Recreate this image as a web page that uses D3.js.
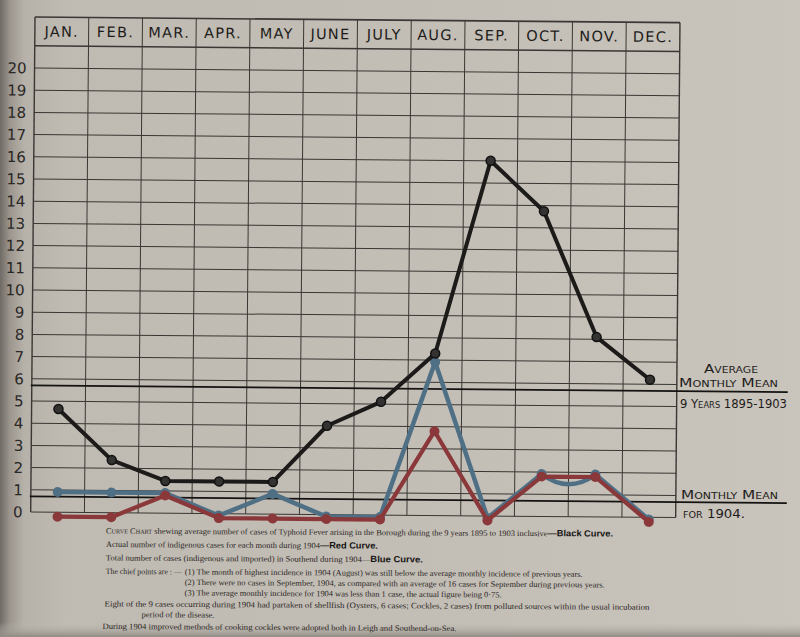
<!DOCTYPE html>
<html><head><meta charset="utf-8">
<script src="https://cdn.jsdelivr.net/npm/d3@7"></script>
<style>html,body{margin:0;padding:0;background:#c2bdb5;} svg{display:block}</style>
</head><body><svg id="c" width="800" height="637"></svg>
<script>
// ---------- data ----------
const months = ["JAN.","FEB.","MAR.","APR.","MAY","JUNE","JULY","AUG.","SEP.","OCT.","NOV.","DEC."];
const yTicks = [0,1,2,3,4,5,6,7,8,9,10,11,12,13,14,15,16,17,18,19,20];
const average9Years = [4.65,2.37,1.45,1.45,1.45,4.0,5.1,7.3,16,13.75,8.1,6.2];   // black
const indigenous1904 = [0,0,1,0,0,0,0,4,0,2,2,0];                                  // red
const total1904 = [1,1,1,0,1,0,0,7,0,2,2,0];                                       // blue
const mean9Years = 5.7;
const mean1904 = 0.7;
const annotations = [
  {text:"Average", x:704, y:372.5, len:54},
  {text:"Monthly Mean", x:679, y:387, len:99},
  {text:"9 Years 1895-1903", x:680, y:408, len:107},
  {text:"Monthly Mean", x:681, y:499, len:97},
  {text:"for 1904.", x:683, y:518, len:62}
];
const notes = [
  {x:106, y:533.5, len:507, parts:[{t:"Curve Chart", sc:1},{t:" shewing average number of cases of Typhoid Fever arising in the Borough during the 9 years 1895 to 1903 inclusive"},{t:"—Black Curve.", b:1}]},
  {x:106, y:547, len:272, parts:[{t:"Actual number of indigenous cases for each month during 1904"},{t:"—Red Curve.", b:1}]},
  {x:106, y:560.5, len:317, parts:[{t:"Total number of cases (indigenous and imported) in Southend during 1904—"},{t:"Blue Curve.", b:1}]},
  {x:106, y:574, len:76, parts:[{t:"The chief points are : —"}]},
  {x:185, y:574, len:398, parts:[{t:"(1)  The month of highest incidence in 1904 (August) was still below the average monthly incidence of previous years."}]},
  {x:185, y:584.5, len:420, parts:[{t:"(2)  There were no cases in September, 1904, as compared with an average of 16 cases for September during previous years."}]},
  {x:185, y:595, len:317, parts:[{t:"(3)  The average monthly incidence for 1904 was less than 1 case, the actual figure being 0·75."}]},
  {x:105, y:606.5, len:545, parts:[{t:"Eight of the 9 cases occurring during 1904 had partaken of shellfish (Oysters, 6 cases; Cockles, 2 cases) from polluted sources within the usual incubation"}]},
  {x:142, y:617, len:73, parts:[{t:"period of the disease."}]},
  {x:103, y:629, len:354, parts:[{t:"During 1904 improved methods of cooking cockles were adopted both in Leigh and Southend-on-Sea."}]}
];

// ---------- drawing ----------
const svg = d3.select("#c");
const defs = svg.append("defs");
const g1 = defs.append("linearGradient").attr("id","paper").attr("x1",0).attr("x2",1).attr("y1",0).attr("y2",0);
[[0,"#6f6a64"],[0.012,"#9b958e"],[0.03,"#b6b1a9"],[0.08,"#bfbab2"],[0.6,"#c3beb6"],[1,"#c9c4bc"]]
  .forEach(([o,c])=>g1.append("stop").attr("offset",o).attr("stop-color",c));
svg.append("rect").attr("width",800).attr("height",637).attr("fill","url(#paper)");
const g2 = defs.append("linearGradient").attr("id","bottom").attr("x1",0).attr("x2",0).attr("y1",0).attr("y2",1);
[[0,"#c3beb6",0],[1,"#8f8a83",1]].forEach(([o,c,a])=>g2.append("stop").attr("offset",o).attr("stop-color",c).attr("stop-opacity",a));
svg.append("rect").attr("y",622).attr("width",800).attr("height",15).attr("fill","url(#bottom)");

const left = 35, right = 680, headTop = 17;
const x = d3.scaleBand().domain(d3.range(12)).range([left,right]);
const y = d3.scaleLinear().domain([0,20]).range([512,68]);
const cx = i => x(i) + x.bandwidth()/2;

const chart = svg.append("g").attr("transform",`rotate(0.5,${left},${headTop})`);
const gridCol = "#3a3734";

// horizontal grid
chart.append("g").selectAll("line").data(yTicks.concat([21])).join("line")
  .attr("x1",left).attr("x2",right).attr("y1",d=>y(d)).attr("y2",d=>y(d))
  .attr("stroke",gridCol).attr("stroke-width",d=>d===21?1.6:1);
// vertical grid
chart.append("g").selectAll("line").data(d3.range(13)).join("line")
  .attr("x1",i=>i<12?x(i):right).attr("x2",i=>i<12?x(i):right)
  .attr("y1",headTop).attr("y2",y(0))
  .attr("stroke",gridCol).attr("stroke-width",(d)=>d===0||d===12?1.4:1);
chart.append("line").attr("x1",left).attr("x2",right).attr("y1",headTop).attr("y2",headTop)
  .attr("stroke",gridCol).attr("stroke-width",1.6);

// month header
chart.append("g").selectAll("text").data(months).join("text")
  .attr("x",(d,i)=>cx(i)).attr("y",36.5).attr("text-anchor","middle")
  .attr("font-family","DejaVu Sans, sans-serif").attr("font-size",14.5)
  .attr("letter-spacing",1.3).attr("fill","#1e1c1a").text(d=>d);

// y tick labels
chart.append("g").selectAll("text").data(yTicks).join("text")
  .attr("x",27).attr("y",d=>y(d)+5.5).attr("text-anchor","end")
  .attr("font-family","DejaVu Sans, sans-serif").attr("font-size",15)
  .attr("fill","#2a2725").text(d=>d);

// mean lines
chart.append("g").selectAll("line").data([mean9Years, mean1904]).join("line")
  .attr("x1",left-1).attr("x2",791).attr("y1",d=>y(d)).attr("y2",d=>y(d))
  .attr("stroke","#141312").attr("stroke-width",1.8);

// blue curve (with the sagging Oct–Nov stretch)
const blueDy = 2, redDy = 4.5;
function bluePath(vals){
  const p = d3.path();
  vals.forEach((v,i)=>{
    const X = cx(i), Y = y(v)+blueDy;
    if(i===0) p.moveTo(X,Y);
    else if(i===10){ const X0=cx(9), Y0=y(vals[9])+blueDy; p.quadraticCurveTo((X0+X)/2,(Y0+Y)/2+20,X,Y); }
    else p.lineTo(X,Y);
  });
  return p.toString();
}
const blue = "#4f6f85", red = "#8a383a", black = "#1c1b1a";
chart.append("path").attr("d",bluePath(total1904)).attr("fill","none")
  .attr("stroke",blue).attr("stroke-width",4.5).attr("stroke-linejoin","round").attr("stroke-linecap","round");
chart.append("g").selectAll("circle").data(total1904).join("circle")
  .attr("cx",(d,i)=>cx(i)).attr("cy",d=>y(d)+blueDy).attr("r",5).attr("fill",blue);

const redLine = d3.line().x((d,i)=>cx(i)).y(d=>y(d)+redDy);
chart.append("path").attr("d",redLine(indigenous1904)).attr("fill","none")
  .attr("stroke",red).attr("stroke-width",4.2).attr("stroke-linejoin","round").attr("stroke-linecap","round");
chart.append("g").selectAll("circle").data(indigenous1904).join("circle")
  .attr("cx",(d,i)=>cx(i)).attr("cy",d=>y(d)+redDy).attr("r",5).attr("fill",red);

const blackLine = d3.line().x((d,i)=>cx(i)).y(d=>y(d));
chart.append("path").attr("d",blackLine(average9Years)).attr("fill","none")
  .attr("stroke",black).attr("stroke-width",4).attr("stroke-linejoin","round");
chart.append("g").selectAll("circle").data(average9Years).join("circle")
  .attr("cx",(d,i)=>cx(i)).attr("cy",d=>y(d)).attr("r",4.5)
  .attr("fill","#353331").attr("stroke","#111").attr("stroke-width",1.5);

// right annotations
svg.append("g").selectAll("text").data(annotations).join("text")
  .attr("x",d=>d.x).attr("y",d=>d.y)
  .attr("font-family","DejaVu Sans Condensed, Liberation Sans Narrow, DejaVu Sans, sans-serif")
  .attr("font-size",12.5).style("font-variant","small-caps")
  .attr("textLength",d=>d.len).attr("lengthAdjust","spacingAndGlyphs")
  .attr("fill","#1e1c1a").text(d=>d.text);

// notes below
const ng = svg.append("g").attr("transform","rotate(0.35,106,533)");
notes.forEach(n=>{
  const t = ng.append("text").attr("x",n.x).attr("y",n.y)
    .attr("font-family","Liberation Serif, serif").attr("font-size",8.2).attr("fill","#2b2724")
    .attr("textLength",n.len).attr("lengthAdjust","spacingAndGlyphs");
  n.parts.forEach(p=>{
    const s = t.append("tspan").text(p.t);
    if(p.b) s.attr("font-family","Liberation Sans, Arial, sans-serif").attr("font-weight","bold").attr("font-size",9).attr("fill","#151312");
    if(p.sc) s.style("font-variant","small-caps");
  });
});
</script></body></html>
